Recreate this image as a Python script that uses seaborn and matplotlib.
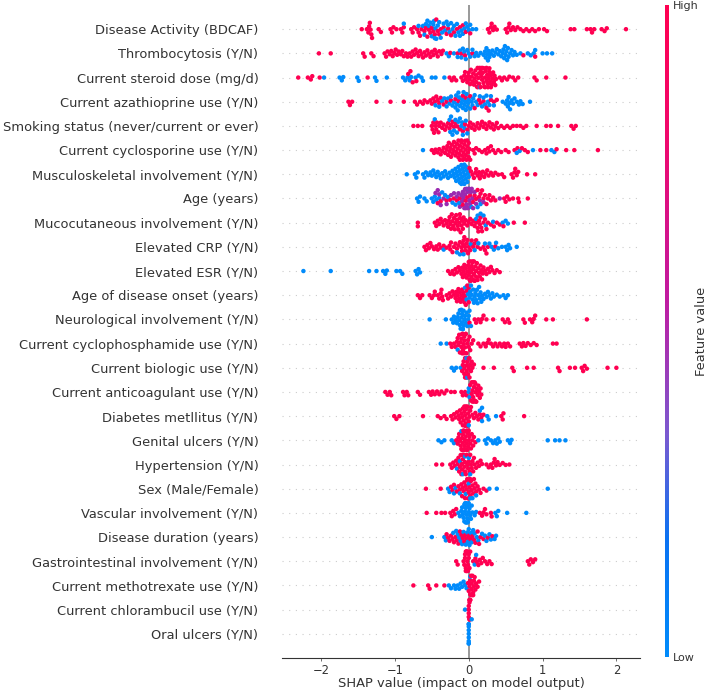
import warnings
import numpy as np
import pandas as pd
import seaborn as sns
import matplotlib
matplotlib.use("Agg")
import matplotlib.pyplot as plt
from matplotlib.colors import LinearSegmentedColormap
from matplotlib.cm import ScalarMappable

warnings.filterwarnings("ignore")

features = ["Disease Activity (BDCAF)", "Thrombocytosis (Y/N)", "Current steroid dose (mg/d)",
            "Current azathioprine use (Y/N)", "Smoking status (never/current or ever)",
            "Current cyclosporine use (Y/N)", "Musculoskeletal involvement (Y/N)", "Age (years)",
            "Mucocutaneous involvement (Y/N)", "Elevated CRP (Y/N)", "Elevated ESR (Y/N)",
            "Age of disease onset (years)", "Neurological involvement (Y/N)",
            "Current cyclophosphamide use (Y/N)", "Current biologic use (Y/N)",
            "Current anticoagulant use (Y/N)", "Diabetes metllitus (Y/N)", "Genital ulcers (Y/N)",
            "Hypertension (Y/N)", "Sex (Male/Female)", "Vascular involvement (Y/N)",
            "Disease duration (years)", "Gastrointestinal involvement (Y/N)",
            "Current methotrexate use (Y/N)", "Current chlorambucil use (Y/N)", "Oral ulcers (Y/N)"]

high_00 = [-1.45,-1.38,-1.36,-1.35,-1.34,-1.33,-1.32,-1.31,-1.22,-1.19,-1.06,-1.04,-1.02,-0.98,-0.92,-0.9,-0.88,-0.78,-0.76,-0.74,-0.7,-0.68,-0.66,-0.64,-0.6,-0.58,-0.56,-0.54,-0.52,-0.5,-0.48,-0.46,-0.44,-0.42,-0.4,-0.38,-0.34,-0.3,-0.28,-0.24,-0.2,-0.16,-0.12,-0.08,-0.04,0.02,0.26,0.28,0.3,0.31,0.33,0.35,0.38,0.5,0.52,0.54,0.55,0.57,0.6,0.63,0.66,0.7,0.74,0.78,0.82,0.86,0.9,0.95,1.02,1.06,1.38,1.43,1.6,1.65,1.67,1.7,1.8,1.84,1.87,2.13]
low_00 = [-0.88,-0.68,-0.62,-0.6,-0.58,-0.56,-0.54,-0.52,-0.5,-0.48,-0.47,-0.46,-0.45,-0.44,-0.42,-0.4,-0.38,-0.36,-0.34,-0.32,-0.3,-0.28,-0.26,-0.24,-0.22,-0.2,-0.18,-0.16,-0.14,-0.12,-0.1,-0.08,-0.06,-0.04,-0.02,0.0,0.02,0.05,0.1]
high_01 = [-2.03,-1.87,-1.43,-1.41,-1.32,-1.29,-1.14,-1.12,-1.1,-1.07,-1.05,-1.03,-1.01,-0.99,-0.97,-0.95,-0.92,-0.9,-0.88,-0.85,-0.83,-0.8,-0.78,-0.76,-0.74,-0.72,-0.7,-0.68,-0.66,-0.64,-0.62,-0.6,-0.58,-0.56,-0.54,-0.52,-0.5,-0.48,-0.46,-0.44,-0.42,-0.4,-0.37,-0.35,-0.25,-0.15,-0.1,-0.05,0.05,0.74,0.9]
low_01 = [-0.3,-0.27,-0.2,-0.15,-0.12,-0.1,-0.08,-0.06,-0.04,-0.02,0.0,0.02,0.05,0.08,0.1,0.13,0.16,0.2,0.22,0.23,0.24,0.25,0.26,0.27,0.28,0.3,0.32,0.34,0.36,0.38,0.4,0.42,0.44,0.46,0.47,0.48,0.49,0.5,0.51,0.52,0.53,0.54,0.56,0.58,0.6,0.62,0.65,0.7,0.8,0.84,0.88,0.9,1.0,1.06,1.13]
high_02 = [-2.31,-2.18,-2.14,-2.12,-2.02,-1.37,-0.82,-0.79,-0.76,-0.71,-0.26,-0.23,-0.2,-0.17,-0.1,-0.08,-0.06,-0.05,-0.04,-0.02,-0.01,0.0,0.01,0.02,0.03,0.04,0.05,0.06,0.07,0.08,0.09,0.1,0.1,0.11,0.12,0.12,0.13,0.14,0.14,0.15,0.16,0.16,0.17,0.18,0.18,0.19,0.2,0.2,0.21,0.22,0.22,0.23,0.24,0.24,0.25,0.26,0.26,0.27,0.28,0.28,0.29,0.3,0.3,0.31,0.32,0.33,0.34,0.35,0.36,0.37,0.42,0.45,0.48,0.52,0.55,0.6,0.63,0.67,0.89,0.92,1.05,1.31]
low_02 = [-1.96,-1.75,-1.72,-1.7,-1.51,-1.49,-1.27,-1.25,-1.11,-0.89,-0.86,-0.83,-0.8,-0.78,-0.72,-0.68,-0.64,-0.62,-0.5,-0.45,-0.33,0.15]
high_03 = [-1.63,-1.61,-1.58,-1.25,-1.06,-0.88,-0.73,-0.7,-0.66,-0.62,-0.6,-0.56,-0.52,-0.5,-0.48,-0.46,-0.44,-0.42,-0.4,-0.38,-0.34,-0.3,-0.24,-0.18,-0.14,-0.08,-0.04,0.02,0.08,0.14,0.16,0.2,0.24,0.27,0.3,0.34,0.38]
low_03 = [-0.45,-0.4,-0.36,-0.33,-0.3,-0.28,-0.26,-0.24,-0.22,-0.2,-0.18,-0.17,-0.16,-0.15,-0.14,-0.13,-0.12,-0.1,-0.09,-0.08,-0.07,-0.06,-0.05,-0.04,-0.03,-0.02,-0.01,0.0,0.02,0.04,0.05,0.06,0.08,0.1,0.12,0.15,0.18,0.2,0.22,0.24,0.26,0.28,0.3,0.34,0.46,0.5,0.52,0.53,0.54,0.55,0.56,0.58,0.6,0.62,0.65,0.68,0.7,0.73,0.83]
high_04 = [-0.75,-0.69,-0.63,-0.5,-0.49,-0.48,-0.47,-0.45,-0.44,-0.43,-0.41,-0.4,-0.38,-0.36,-0.34,-0.32,-0.3,-0.28,-0.26,-0.24,-0.22,-0.2,-0.18,-0.15,-0.12,-0.08,-0.05,-0.02,0.0,0.02,0.04,0.06,0.08,0.1,0.12,0.14,0.16,0.18,0.2,0.22,0.24,0.26,0.28,0.3,0.32,0.34,0.36,0.38,0.4,0.44,0.48,0.52,0.56,0.6,0.65,0.7,0.74,0.78,0.92,1.05,1.11,1.21,1.39,1.42,1.45]
low_04 = [-0.46,-0.26,-0.25,-0.24,-0.22,-0.2,-0.18,-0.16,-0.14,-0.12,-0.1,-0.09,-0.08,-0.06,-0.04,-0.02]
high_05 = [-0.5,-0.47,-0.45,-0.42,-0.4,-0.38,-0.36,-0.34,-0.32,-0.3,-0.29,-0.28,-0.27,-0.26,-0.25,-0.24,-0.23,-0.22,-0.21,-0.2,-0.19,-0.18,-0.17,-0.16,-0.15,-0.14,-0.14,-0.13,-0.12,-0.12,-0.11,-0.1,-0.1,-0.09,-0.08,-0.08,-0.07,-0.06,-0.06,-0.05,-0.04,-0.04,-0.03,-0.02,-0.02,-0.01,0.0,0.0,0.01,0.02,0.06,0.08,0.1,0.14,0.18,0.22,0.24,0.26,0.28,0.3,0.33,0.36,0.4,0.44,0.5,0.54,0.62,0.66,0.72,0.76,0.8,0.97,1.05,1.19,1.32,1.43,1.75]
low_05 = [-0.62,0.65,0.69,0.87,1.12,1.16]
high_06 = [0.01,0.03,0.05,0.07,0.09,0.1,0.12,0.14,0.15,0.17,0.19,0.21,0.23,0.25,0.27,0.3,0.33,0.36,0.4,0.45,0.48,0.58,0.6,0.62,0.63,0.65,0.67,0.79,0.9]
low_06 = [-0.84,-0.73,-0.71,-0.69,-0.62,-0.6,-0.58,-0.55,-0.52,-0.5,-0.48,-0.46,-0.44,-0.42,-0.4,-0.38,-0.36,-0.34,-0.32,-0.3,-0.28,-0.26,-0.24,-0.22,-0.2,-0.19,-0.18,-0.17,-0.16,-0.15,-0.14,-0.13,-0.12,-0.12,-0.11,-0.1,-0.1,-0.09,-0.08,-0.08,-0.07,-0.06,-0.06,-0.05,-0.04,-0.04,-0.03,-0.02,-0.01,0.0]
high_07 = [-0.42,-0.38,-0.3,-0.25,-0.2,-0.16,-0.12,-0.08,-0.04,-0.02,0.02,0.06,0.08,0.1,0.12,0.14,0.16,0.18,0.2,0.22,0.24,0.26,0.28,0.3,0.33,0.36,0.48,0.5,0.52,0.55,0.6,0.67,0.68,0.8]
mid_07 = [-0.45,-0.42,-0.4,-0.38,-0.34,-0.3,-0.24,-0.2,-0.16,-0.14,-0.12,-0.1,-0.09,-0.08,-0.07,-0.06,-0.05,-0.05,-0.04,-0.03,-0.03,-0.02,-0.01,-0.01,0.0,0.01,0.02,0.03,0.04,0.05,0.06,0.08,0.1,0.15,0.2,0.42]
low_07 = [-0.7,-0.68,-0.66,-0.6,-0.57,-0.5,-0.48,-0.46,-0.44,-0.4,-0.36,-0.32,-0.28,-0.22,-0.18,-0.13,0.0,0.04,0.12,0.16]
high_08 = [-0.69,-0.69,-0.46,-0.44,-0.42,-0.4,-0.38,-0.36,-0.34,-0.32,-0.3,-0.28,-0.27,-0.26,-0.25,-0.24,-0.23,-0.22,-0.21,-0.2,-0.19,-0.18,-0.17,-0.16,-0.15,-0.14,-0.13,-0.12,-0.12,-0.11,-0.1,-0.09,-0.08,-0.07,-0.06,-0.04,-0.02,0.0,0.02,0.04,0.06,0.08,0.1,0.12,0.13,0.14,0.15,0.16,0.17,0.18,0.2,0.22,0.24,0.26,0.3,0.34,0.38,0.42,0.47,0.61,0.76]
low_08 = [0.1,0.12,0.16,0.2,0.23,0.33,0.46,0.5,0.53]
high_09 = [-0.6,-0.58,-0.56,-0.54,-0.52,-0.5,-0.47,-0.44,-0.42,-0.4,-0.38,-0.34,-0.3,-0.26,-0.25,-0.24,-0.22,-0.2,-0.18,-0.16,-0.14,-0.12,-0.1,-0.09,-0.08,-0.07,-0.06,-0.05,-0.04,-0.03,-0.02,-0.01,0.0,0.02,0.04,0.06,0.08,0.1,0.12,0.16,0.2,0.22,0.24,0.26,0.36]
low_09 = [-0.34,-0.16,-0.12,-0.07,0.03,0.08,0.13,0.22,0.28,0.31,0.34,0.37,0.4,0.45,0.5,0.52,0.54,0.56,0.65]
low_10 = [-2.24,-1.87,-1.35,-1.25,-1.16,-1.13,-1.11,-0.98,-0.93,-0.9,-0.72,-0.7,-0.68,-0.66]
high_10 = [-0.28,-0.25,-0.22,-0.2,-0.18,-0.16,-0.14,-0.12,-0.1,-0.09,-0.08,-0.07,-0.06,-0.05,-0.04,-0.03,-0.02,-0.01,0.0,0.0,0.01,0.01,0.02,0.02,0.03,0.03,0.04,0.04,0.05,0.05,0.06,0.06,0.07,0.07,0.08,0.08,0.09,0.1,0.1,0.11,0.12,0.13,0.14,0.15,0.16,0.17,0.18,0.19,0.2,0.22,0.24,0.26,0.28,0.3,0.32,0.35,0.38,0.42]
high_11 = [-0.69,-0.66,-0.63,-0.53,-0.5,-0.47,-0.46,-0.42,-0.4,-0.38,-0.37,-0.36,-0.35,-0.3,-0.28,-0.26,-0.24,-0.22,-0.2,-0.18,-0.17,-0.16,-0.15,-0.14,-0.13,-0.12,-0.11,-0.1,-0.09,-0.08,-0.07,-0.06,-0.05,-0.04,-0.03,-0.02,0.0,0.0]
low_11 = [-0.05,-0.03,-0.01,0.01,0.02,0.03,0.04,0.05,0.06,0.07,0.08,0.09,0.1,0.11,0.12,0.13,0.14,0.15,0.16,0.17,0.18,0.2,0.22,0.24,0.26,0.28,0.3,0.32,0.34,0.38,0.42,0.47,0.5,0.53]
low_12 = [-0.53,-0.31,-0.23,-0.21,-0.2,-0.18,-0.16,-0.15,-0.14,-0.13,-0.12,-0.12,-0.11,-0.1,-0.1,-0.09,-0.09,-0.08,-0.08,-0.07,-0.07,-0.06,-0.05,-0.04,-0.03,-0.02,-0.01,0.0,0.01,0.03]
high_12 = [0.01,0.08,0.1,0.13,0.16,0.18,0.2,0.24,0.33,0.46,0.49,0.53,0.55,0.74,0.76,0.83,0.86,0.88,0.9,1.05,1.14,1.6]
low_13 = [-0.38,-0.3,-0.15]
high_13 = [-0.25,-0.23,-0.2,-0.18,-0.16,-0.15,-0.14,-0.13,-0.12,-0.11,-0.1,-0.1,-0.09,-0.09,-0.08,-0.08,-0.07,-0.07,-0.06,-0.06,-0.05,-0.05,-0.04,-0.04,-0.03,-0.02,-0.01,0.0,0.01,0.02,0.04,0.06,0.13,0.16,0.2,0.23,0.25,0.27,0.3,0.33,0.36,0.39,0.42,0.45,0.48,0.5,0.53,0.56,0.69,0.72,0.74,0.77,0.8,0.84,0.88,0.92,1.14,1.19]
low_14 = [-0.23,-0.2,-0.17,-0.11,-0.03,-0.02,-0.01]
high_14 = [-0.09,-0.08,-0.07,-0.06,-0.06,-0.05,-0.05,-0.04,-0.04,-0.03,-0.03,-0.02,-0.02,-0.01,-0.01,0.0,0.0,0.01,0.01,0.02,0.03,0.04,0.05,0.07,0.2,0.34,0.59,0.61,0.79,0.88,1.21,1.23,1.37,1.44,1.53,1.55,1.57,1.6,1.88,2.0]
low_15 = [0.0,0.0,0.01]
high_15 = [-1.13,-1.1,-1.07,-1.05,-0.89,-0.87,-0.84,-0.82,-0.69,-0.66,-0.54,-0.51,-0.49,-0.46,-0.43,-0.4,-0.37,-0.33,-0.3,-0.24,-0.19,-0.1,-0.08,-0.05,-0.03,0.02,0.03,0.04,0.04,0.05,0.05,0.06,0.06,0.07,0.07,0.08,0.08,0.09,0.09,0.1,0.1,0.11,0.12,0.13,0.14,0.15,0.16,0.17]
high_16 = [-1.01,-0.98,-0.94,-0.62,-0.42,-0.38,-0.33,-0.3,-0.24,-0.22,-0.2,-0.18,-0.16,-0.14,-0.13,-0.12,-0.11,-0.1,-0.09,-0.08,-0.08,-0.07,-0.06,-0.06,-0.05,-0.05,-0.04,-0.04,-0.03,-0.03,-0.02,-0.02,-0.01,0.0,0.01,0.02,0.03,0.05,0.07,0.09,0.11,0.13,0.15,0.17,0.2,0.44,0.46,0.47,0.75]
low_16 = [0.0,0.15,0.18,0.18,0.25,0.27,0.37]
low_17 = [-0.41,-0.37,-0.33,-0.23,-0.2,-0.1,0.13,0.22,0.24,0.26,0.3,0.33,0.36,0.38,0.4,0.42,0.53,0.56,0.58,1.07,1.17,1.23,1.31]
high_17 = [-0.17,-0.15,-0.14,-0.13,-0.12,-0.11,-0.1,-0.09,-0.09,-0.08,-0.08,-0.07,-0.07,-0.06,-0.06,-0.05,-0.05,-0.04,-0.04,-0.03,-0.03,-0.02,-0.02,-0.01,-0.01,0.0,0.0,0.01,0.02,0.03,0.04,0.05,0.06,0.07,0.09]
high_18 = [-0.44,-0.36,-0.25,-0.23,-0.21,-0.19,-0.17,-0.15,-0.14,-0.13,-0.12,-0.11,-0.1,-0.09,-0.09,-0.08,-0.08,-0.07,-0.06,-0.05,-0.05,-0.04,-0.03,-0.02,-0.01,0.0,0.01,0.02,0.03,0.04,0.05,0.06,0.07,0.08,0.1,0.12,0.14,0.16,0.18,0.24,0.27,0.3,0.32,0.34,0.35,0.37,0.39,0.42,0.46,0.5,0.55]
low_18 = [-0.16,-0.12,-0.08,-0.05,0.0,0.02]
high_19 = [-0.58,-0.38,-0.24,-0.22,-0.2,-0.16,-0.14,-0.12,-0.1,-0.09,-0.08,-0.07,-0.06,-0.05,-0.04,-0.03,-0.02,-0.02,-0.01,0.0,0.01,0.02,0.02,0.03,0.04,0.05,0.06,0.07,0.08,0.09,0.1,0.12,0.14,0.16,0.2,0.24]
low_19 = [-0.28,-0.26,-0.2,-0.18,-0.12,-0.04,0.0,0.02,0.05,0.1,0.28,0.38,1.07]
high_20 = [-0.57,-0.44,-0.37,-0.32,-0.25,-0.23,-0.21,-0.19,-0.17,0.15,0.18,0.2,0.22,0.24,0.3,0.31]
low_20 = [-0.14,-0.12,-0.1,-0.09,-0.08,-0.07,-0.06,-0.06,-0.05,-0.05,-0.04,-0.04,-0.03,-0.03,-0.02,-0.02,-0.01,-0.01,0.0,0.0,0.01,0.02,0.03,0.04,0.05,0.08,0.1,0.36,0.38,0.4,0.52,0.78]
high_21 = [-0.3,-0.28,-0.26,-0.24,-0.22,-0.2,-0.18,-0.16,-0.14,-0.12,-0.1,-0.08,-0.06,-0.05,-0.03,0.0,0.02,0.05,0.07,0.09,0.12,0.14,0.16,0.2,0.26,0.32]
low_21 = [-0.5,-0.33,-0.31,-0.21,-0.17,-0.15,-0.13,-0.11,-0.09,-0.07,-0.04,-0.02,-0.01,0.0,0.01,0.03,0.04,0.06,0.08,0.11,0.13,0.18,0.22,0.24,0.28,0.3,0.35,0.37]
high_22 = [-0.17,-0.15,-0.07,-0.06,-0.05,-0.05,-0.04,-0.04,-0.04,-0.03,-0.03,-0.03,-0.03,-0.02,-0.02,-0.02,-0.01,-0.01,0.0,0.0,0.01,0.02,0.06,0.09,0.11,0.13,0.15,0.17,0.19,0.22,0.25,0.28,0.31,0.8,0.82,0.84,0.87,0.9]
low_22 = [0.08,0.1]
high_23 = [-0.75,-0.55,-0.53,-0.44,-0.33,-0.01,0.0,0.01,0.02,0.02,0.03,0.03,0.04,0.04,0.05,0.05,0.06,0.06,0.07,0.07,0.08,0.09,0.1,0.12,0.14]
low_23 = [-0.27,-0.24,-0.2,-0.18,-0.15,-0.13,-0.11,-0.09,-0.07,-0.05,-0.03,0.02]
high_24 = [0.0,0.0,0.0,0.0,0.01,0.01,0.01,0.01,0.01,0.02,0.02,0.02]
low_24 = [-0.05,0.04]
high_25 = []
low_25 = [0.0,0.0,0.0,0.0,0.0,0.0,0.0,0.0,0.0]

high_values = [high_00,high_01,high_02,high_03,high_04,high_05,high_06,high_07,high_08,high_09,high_10,high_11,high_12,
               high_13,high_14,high_15,high_16,high_17,high_18,high_19,high_20,high_21,high_22,high_23,high_24,high_25]
low_values = [low_00,low_01,low_02,low_03,low_04,low_05,low_06,low_07,low_08,low_09,low_10,low_11,low_12,
              low_13,low_14,low_15,low_16,low_17,low_18,low_19,low_20,low_21,low_22,low_23,low_24,low_25]

rows = []
for name, hi, lo in zip(features, high_values, low_values):
    rows += [(name, v, "High") for v in hi]
    rows += [(name, v, "Low") for v in lo]
rows += [(features[7], v, "Mid") for v in mid_07]
df = pd.DataFrame(rows, columns=["feature", "shap", "level"])
df = df.sort_values("shap", kind="stable").reset_index(drop=True)

BLUE, RED, PURPLE = "#008bfb", "#ff0051", "#9a2ab0"
INK = "#333333"

W, H = 708, 693
fig = plt.figure(figsize=(W / 100, H / 100), dpi=100)
ax = fig.add_axes([282 / W, 1 - 658 / H, (640 - 282) / W, (658 - 5) / H])

for i in range(len(features)):
    ax.axhline(i, color="#cccccc", lw=0.8, dashes=(1, 5), zorder=-2)
ax.axvline(0, color="#999999", lw=1.4, zorder=-1)

# The swarm is laid out with a tight packing, then the dots are drawn larger so that
# dense clusters merge into solid blobs as in the reference.
sns.swarmplot(data=df, x="shap", y="feature", hue="level", order=features,
              palette={"High": RED, "Low": BLUE, "Mid": PURPLE}, size=2.5, linewidth=0,
              orient="h", legend=False, warn_thresh=1, ax=ax)

ax.set_xlim(-2.53, 2.32)
ax.set_ylim(len(features), -1)
ax.set_xticks([-2, -1, 0, 1, 2])
for side in ("top", "left", "right"):
    ax.spines[side].set_visible(False)
ax.spines["bottom"].set_color(INK)
ax.set_ylabel("")
ax.set_xlabel("SHAP value (impact on model output)", fontsize=9.4, color=INK, labelpad=0)
ax.tick_params(axis="y", length=0, pad=17, labelsize=9.4, labelcolor=INK)
ax.tick_params(axis="x", length=2, width=0.5, color=INK, labelsize=8.3, labelcolor=INK, pad=2)

fig.canvas.draw()
for coll in ax.collections:
    if "draw" in coll.__dict__:
        del coll.__dict__["draw"]
    coll.set_sizes([3.2 ** 2])

cmap = LinearSegmentedColormap.from_list(
    "red_blue", [(0, BLUE), (0.18, "#0a72f2"), (0.34, "#7a5ad0"), (0.55, "#c01aa0"), (0.8, "#f0086c"), (1, RED)])
cax = fig.add_axes([665 / W, 1 - 657 / H, 4 / W, (657 - 5) / H])
cb = fig.colorbar(ScalarMappable(cmap=cmap), cax=cax, ticks=[0, 1])
cb.ax.set_yticklabels(["Low", "High"], color=INK, fontsize=8)
cb.ax.tick_params(length=0, pad=3)
cb.outline.set_visible(False)
cb.set_label("Feature value", fontsize=9.4, color=INK, labelpad=-3)

fig.savefig("out.png", dpi=100)
